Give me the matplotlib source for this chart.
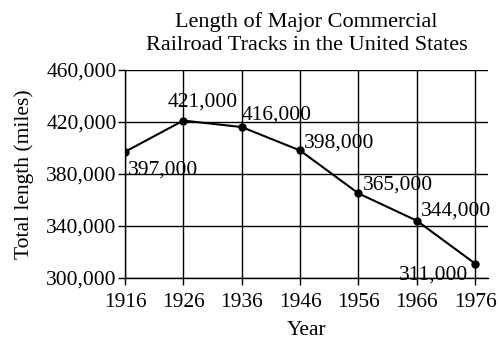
import matplotlib
matplotlib.use("Agg")
import matplotlib.pyplot as plt

years = [1916, 1926, 1936, 1946, 1956, 1966, 1976]
lengths = [397000, 421000, 416000, 398000, 365000, 344000, 311000]
value_labels = ["397,000", "421,000", "416,000", "398,000", "365,000", "344,000", "311,000"]
y_ticks = [300000, 340000, 380000, 420000, 460000]
y_tick_labels = ["300,000", "340,000", "380,000", "420,000", "460,000"]

plt.rcParams['font.family'] = ['Liberation Serif', 'DejaVu Serif']

fig = plt.figure(figsize=(4.98, 3.44), dpi=100)
ax = fig.add_axes([0.251, 0.192, 0.729, 0.605])

ax.plot(years, lengths, color='black', lw=1.5, marker='o', markersize=5, zorder=3)

# label offsets (points) and alignment
offsets = [(2, -13, 'left'), (-11, 13, 'left'), (0, 9, 'left'), (3, 5, 'left'),
           (3, 6, 'left'), (3, 7, 'left'), (-5, -8, 'right')]
for x, y, lab, (dx, dy, ha) in zip(years, lengths, value_labels, offsets):
    ax.annotate(lab, (x, y), xytext=(dx, dy), textcoords='offset points',
                ha=ha, va='center', fontsize=15.5, color='black')

ax.set_xlim(1916, 1978.2)
ax.set_ylim(300000, 460000)
ax.set_xticks(years)
ax.set_yticks(y_ticks)
ax.set_yticklabels(y_tick_labels)
ax.tick_params(axis='both', direction='out', length=5, width=1.0, labelsize=15.5, colors='black')
ax.tick_params(axis='x', pad=6)
ax.tick_params(axis='y', pad=1)
for s in ['top', 'right']:
    ax.spines[s].set_visible(False)
for s in ['left', 'bottom']:
    ax.spines[s].set_linewidth(1.0)
ax.grid(True, color='black', lw=1.0)
ax.set_axisbelow(True)

ax.set_xlabel('Year', fontsize=15.5, labelpad=6)
ax.set_ylabel('Total length (miles)', fontsize=15.5, labelpad=9)
ax.set_title('Length of Major Commercial\nRailroad Tracks in the United States', fontsize=16, pad=14, linespacing=1.3)

fig.savefig('out.png', dpi=100)
